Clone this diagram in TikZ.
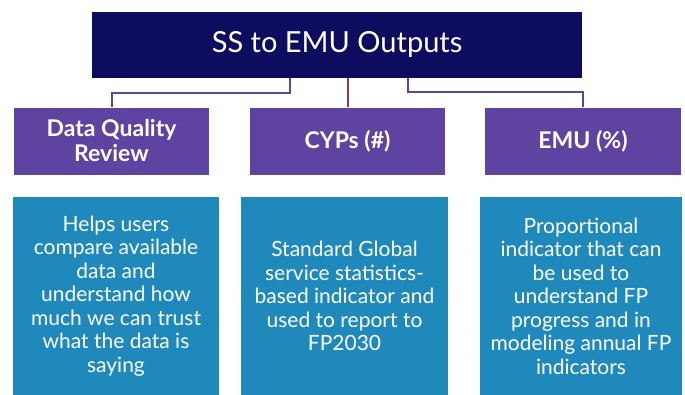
\documentclass[tikz,border=0pt]{standalone}
\usepackage{fontspec}
\setmainfont{Lato}
\definecolor{navybox}{HTML}{0D0C5E}
\definecolor{purplebox}{HTML}{5E44A0}
\definecolor{bluebox}{HTML}{2089BB}
\definecolor{maroonline}{HTML}{8B3A5A}
\begin{document}
\begin{tikzpicture}[x=1pt, y=-1pt,
    titlebox/.style={fill=navybox, text=white, minimum width=490pt, minimum height=66pt, font=\fontsize{29}{32}\selectfont},
    headbox/.style={fill=purplebox, text=white, minimum width=195pt, minimum height=67pt, align=center, font=\bfseries\fontsize{23}{25}\selectfont},
    textbox/.style={fill=bluebox, text=white, minimum width=206pt, minimum height=198pt, align=center, font=\fontsize{21}{23.5}\selectfont},
    link/.style={purplebox, line width=2pt}]
  \useasboundingbox (0,0) rectangle (685,394);
  % top
  \node [titlebox] (top) at (337,44.5) {SS to EMU Outputs};
  % headings
  \node [headbox] (dqr) at (111.5,141) {Data Quality\\Review};
  \node [headbox] (cyp) at (347.5,141) {CYPs (\#)};
  \node [headbox, minimum width=196pt] (emu) at (583,141) {EMU (\%)};
  % descriptions
  \node [textbox] (dqrtext) at (116,296) {Helps users\\compare available\\data and\\understand how\\much we can trust\\what the data is\\saying};
  \node [textbox, minimum width=207pt] (cyptext) at (344.5,296) {Standard Global\\service statistics-\\based indicator and\\used to report to\\FP2030};
  \node [textbox, minimum width=202pt] (emutext) at (581,296) {Proportional\\indicator that can\\be used to\\understand FP\\progress and in\\modeling annual FP\\indicators};
  % links
  \draw [link] ([xshift=-47pt]top.south) -- ++(0,15) -| (dqr.north);
  \draw [link, maroonline] (top.south -| cyp.north) -- (cyp.north);
  \draw [link] ([xshift=71pt]top.south) -- ++(0,14) -| (emu.north);
\end{tikzpicture}
\end{document}
